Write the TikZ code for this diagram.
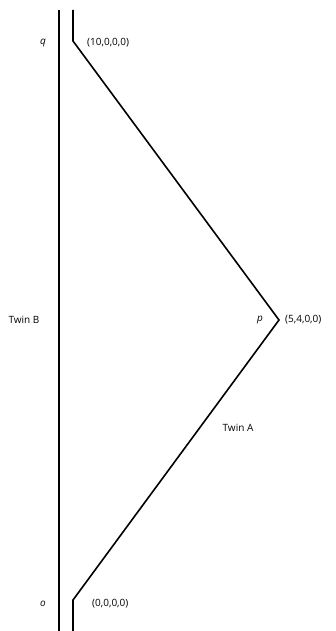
\documentclass[tikz,border=0pt]{standalone}
\usepackage{fontspec}
\setmainfont{Open Sans}
\usetikzlibrary{positioning, calc}

\begin{document}
\begin{tikzpicture}[
    x=1pt, y=-1pt,
    font=\fontsize{10}{12}\selectfont,
    worldline/.style={draw=black, line width=1.6pt, line join=miter},
    event/.style={font=\fontsize{10}{12}\selectfont\itshape, inner sep=1pt},
    coord/.style={inner sep=1pt, anchor=west},
    label/.style={inner sep=1pt}
]
\useasboundingbox (0,0) rectangle (335,631);

% 1. Events on the worldlines
\coordinate (BTop) at (59,10);
\coordinate (BBot) at (59,631);
\coordinate (ATop) at (73,10);
\coordinate (ABot) at (73,631);
\coordinate (o) at (73,600);
\coordinate (q) at (73,41);
\coordinate (p) at (279,320);

% 2. Worldlines
\draw[worldline] (BTop) -- (BBot);
\draw[worldline] (ABot) -- (o) -- (p) -- (q) -- (ATop);

% 3. Labels
\node[event] (qLabel) at (43,43) {q};
\node[event] (oLabel) at (43,604) {o};
\node[event] (pLabel) at (260,320) {p};
\node[coord] (qCoord) at (86,43) {(10,0,0,0)};
\node[coord] (oCoord) at (91,604) {(0,0,0,0)};
\node[coord] (pCoord) at (284,320) {(5,4,0,0)};
\node[label] (TwinB) at (24,320) {Twin B};
\node[label] (TwinA) at (238,428) {Twin A};

\end{tikzpicture}
\end{document}
